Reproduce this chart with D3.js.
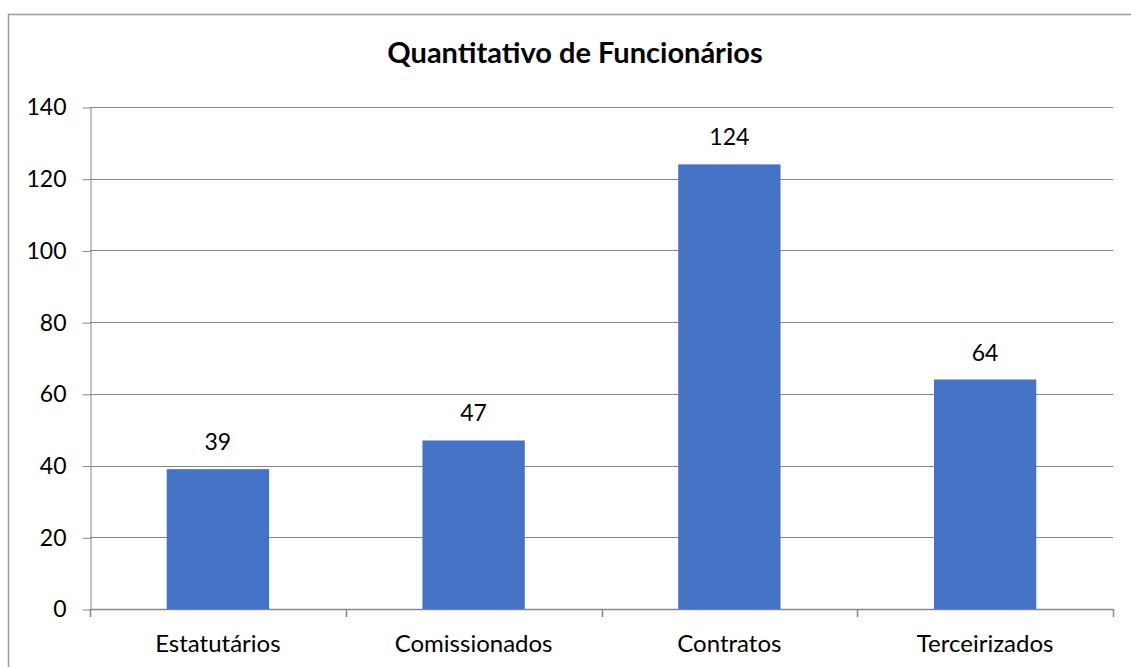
<html>
  <head>
    <meta charset="utf-8">
    <title>Quantitativo de Funcionários</title>
    <style>
      body { margin: 0; background: #fff; }
    </style>
  </head>
  <body>
    <script src="https://d3js.org/d3.v7.min.js"></script>
    <script>
      var categories = ['Estatutários', 'Comissionados', 'Contratos', 'Terceirizados'];
      var values = [39, 47, 124, 64];
      var yTicks = [0, 20, 40, 60, 80, 100, 120, 140];

      (function() {
        var WIDTH = 1131, HEIGHT = 667;
        var FONT = 'Lato, Carlito, "Open Sans", sans-serif';

        // plot area
        var left = 90, right = 1113, top = 107, bottom = 609;

        var colors = {
          BAR: '#4472C4',
          GRID: '#878787',
          BORDER: '#9a9a9a',
          TEXT: '#000000'
        };

        var svg = d3.select('body')
          .append('svg')
          .attr('width', WIDTH)
          .attr('height', HEIGHT);

        // chart frame (only top + left fall inside the window)
        svg.append('rect')
          .attr('x', 8.5)
          .attr('y', 14.5)
          .attr('width', WIDTH + 20)
          .attr('height', HEIGHT + 20)
          .attr('fill', 'none')
          .attr('stroke', colors.BORDER)
          .attr('stroke-width', 1.5);

        var x = d3.scaleBand()
          .domain(categories)
          .range([left, right])
          .paddingInner(0.6)
          .paddingOuter(0.3);

        var y = d3.scaleLinear()
          .domain([0, 140])
          .range([bottom, top]);

        // horizontal gridlines
        svg.append('g')
          .selectAll('line')
          .data(yTicks.filter(function(d) { return d > 0; }))
          .join('line')
          .attr('x1', left)
          .attr('x2', right)
          .attr('y1', function(d) { return Math.round(y(d)) + 0.5; })
          .attr('y2', function(d) { return Math.round(y(d)) + 0.5; })
          .attr('stroke', colors.GRID)
          .attr('stroke-width', 1);

        // y axis
        var yAxis = svg.append('g')
          .attr('transform', 'translate(' + (left + 0.5) + ',0.5)')
          .call(d3.axisLeft(y).tickValues(yTicks).tickSize(8).tickPadding(16).tickSizeOuter(0));
        yAxis.select('.domain').attr('stroke', colors.GRID);
        yAxis.selectAll('.tick line').attr('stroke', colors.GRID);
        yAxis.selectAll('.tick text')
          .attr('font-family', FONT)
          .attr('font-size', '23px')
          .attr('fill', colors.TEXT);

        // x axis: ticks at category boundaries
        var boundaries = [left].concat(categories.map(function(c) { return x(c) + x.bandwidth() / 2 + x.step() / 2; }));
        var xg = svg.append('g');
        xg.append('line')
          .attr('x1', left)
          .attr('x2', right)
          .attr('y1', bottom + 0.5)
          .attr('y2', bottom + 0.5)
          .attr('stroke', colors.GRID)
          .attr('stroke-width', 1.5);
        xg.selectAll('line.tk')
          .data(boundaries)
          .join('line')
          .attr('class', 'tk')
          .attr('x1', function(d) { return Math.round(d) + 0.5; })
          .attr('x2', function(d) { return Math.round(d) + 0.5; })
          .attr('y1', bottom)
          .attr('y2', bottom + 8)
          .attr('stroke', colors.GRID)
          .attr('stroke-width', 1.5);
        xg.selectAll('text')
          .data(categories)
          .join('text')
          .attr('x', function(d) { return x(d) + x.bandwidth() / 2; })
          .attr('y', 652)
          .attr('text-anchor', 'middle')
          .attr('font-family', FONT)
          .attr('font-size', '24px')
          .attr('fill', colors.TEXT)
          .text(function(d) { return d; });

        // bars
        svg.append('g')
          .selectAll('rect')
          .data(values)
          .join('rect')
          .attr('x', function(d, i) { return x(categories[i]); })
          .attr('y', function(d) { return y(d); })
          .attr('width', x.bandwidth())
          .attr('height', function(d) { return bottom - y(d); })
          .attr('fill', colors.BAR);

        // data labels
        svg.append('g')
          .selectAll('text')
          .data(values)
          .join('text')
          .attr('x', function(d, i) { return x(categories[i]) + x.bandwidth() / 2; })
          .attr('y', function(d) { return y(d) - 19; })
          .attr('text-anchor', 'middle')
          .attr('font-family', FONT)
          .attr('font-size', '23px')
          .attr('fill', colors.TEXT)
          .text(function(d) { return d; });

        // title
        svg.append('text')
          .text('Quantitativo de Funcionários')
          .attr('x', 575)
          .attr('y', 63)
          .attr('text-anchor', 'middle')
          .attr('font-family', FONT)
          .attr('font-weight', 'bold')
          .attr('font-size', '29px')
          .attr('fill', colors.TEXT);
      })();
    </script>
  </body>
</html>
